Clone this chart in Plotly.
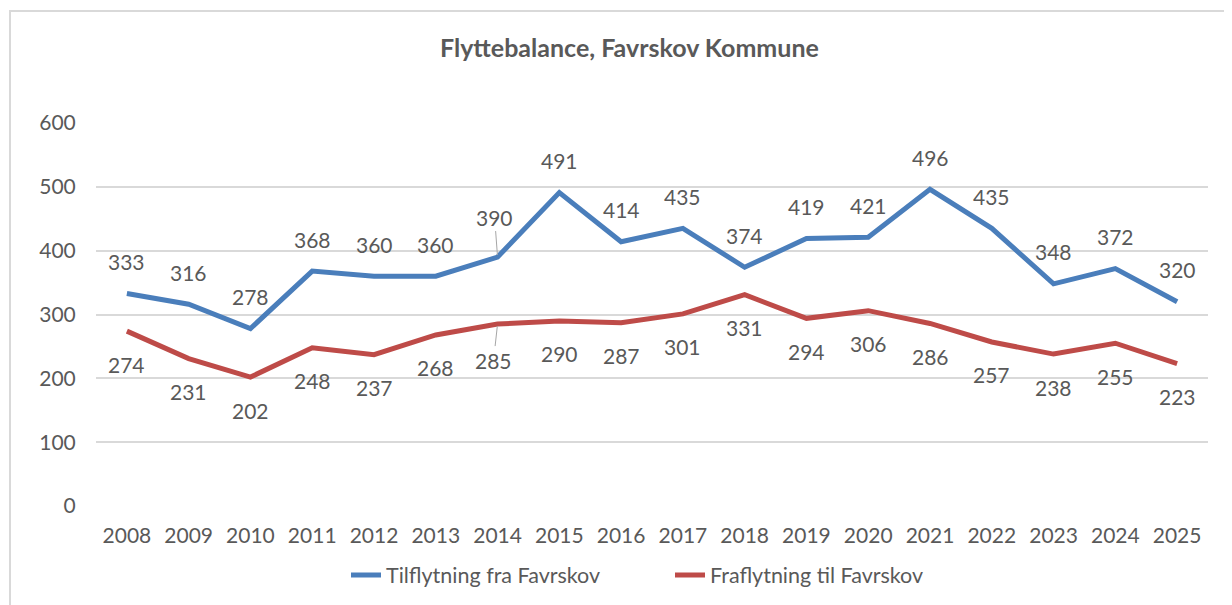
import plotly.graph_objects as go

years = [str(y) for y in range(2008, 2026)]
tilflytning = [333, 316, 278, 368, 360, 360, 390, 491, 414, 435, 374, 419, 421, 496, 435, 348, 372, 320]
fraflytning = [274, 231, 202, 248, 237, 268, 285, 290, 287, 301, 331, 294, 306, 286, 257, 238, 255, 223]
series_names = ["Tilflytning fra Favrskov", "Fraflytning til Favrskov"]
title_text = "Flyttebalance, Favrskov Kommune"
y_ticks = [0, 100, 200, 300, 400, 500, 600]

BLUE = "#4a7ebb"
RED = "#be4b48"
TXT = "#595959"
GRID = "#d9d9d9"
FONT = "Lato"

fig = go.Figure()
fig.add_trace(go.Scatter(x=years, y=tilflytning, mode="lines", name=series_names[0],
                         line=dict(color=BLUE, width=5)))
fig.add_trace(go.Scatter(x=years, y=fraflytning, mode="lines", name=series_names[1],
                         line=dict(color=RED, width=5)))

# leader-line labels (moved labels in the original)
leader = {("top", "2014"): (-3, -40), ("bot", "2014"): (-4, 36)}

ann = []
for vals, side in ((tilflytning, "top"), (fraflytning, "bot")):
    for i, (yr, v) in enumerate(zip(years, vals)):
        if (side, yr) in leader:
            ax, ay = leader[(side, yr)]
            ann.append(dict(x=i, y=v, text=str(v), showarrow=True, ax=ax, ay=ay,
                            arrowhead=0, arrowwidth=1, arrowcolor="#a6a6a6", standoff=2,
                            font=dict(family=FONT, size=21, color=TXT)))
        else:
            ann.append(dict(x=i, y=v, text=str(v), showarrow=False,
                            yshift=32 if side == "top" else -33,
                            font=dict(family=FONT, size=21, color=TXT)))

ann.append(dict(text="<b>" + title_text + "</b>", xref="paper", yref="paper",
                x=(629 - 96) / 1112, y=(506 - 47) / 383, xanchor="center", yanchor="middle",
                showarrow=False, font=dict(family=FONT, size=25, color=TXT)))

fig.update_layout(
    width=1232, height=605,
    margin=dict(l=88, r=32, t=115, b=107),
    paper_bgcolor="white", plot_bgcolor="white",
    font=dict(family=FONT, size=21, color=TXT),
    annotations=ann,
    showlegend=True,
    legend=dict(orientation="h", x=(670 - 96) / 1112, xanchor="center", y=-0.18, yanchor="middle",
                font=dict(family=FONT, size=21.5, color=TXT), entrywidth=279, entrywidthmode="pixels",
                bgcolor="rgba(0,0,0,0)"),
    xaxis=dict(type="category", range=[-0.5, 17.5], showgrid=False, zeroline=False,
               showline=False, ticks="outside", ticklen=11, tickcolor="rgba(0,0,0,0)",
               tickfont=dict(family=FONT, size=21, color=TXT), fixedrange=True),
    yaxis=dict(range=[0, 600], tickvals=y_ticks, showgrid=True, gridcolor=GRID, gridwidth=2,
               zeroline=False, showline=False, ticks="outside", ticklen=15,
               tickcolor="rgba(0,0,0,0)", tickfont=dict(family=FONT, size=21, color=TXT)),
    shapes=[dict(type="rect", xref="paper", yref="paper",
                 x0=(10 - 96) / 1112, x1=1.2, y0=-0.5, y1=(506 - 11) / 383,
                 line=dict(color=GRID, width=2), fillcolor="rgba(0,0,0,0)", layer="below")],
)

fig.write_html("out.html")
